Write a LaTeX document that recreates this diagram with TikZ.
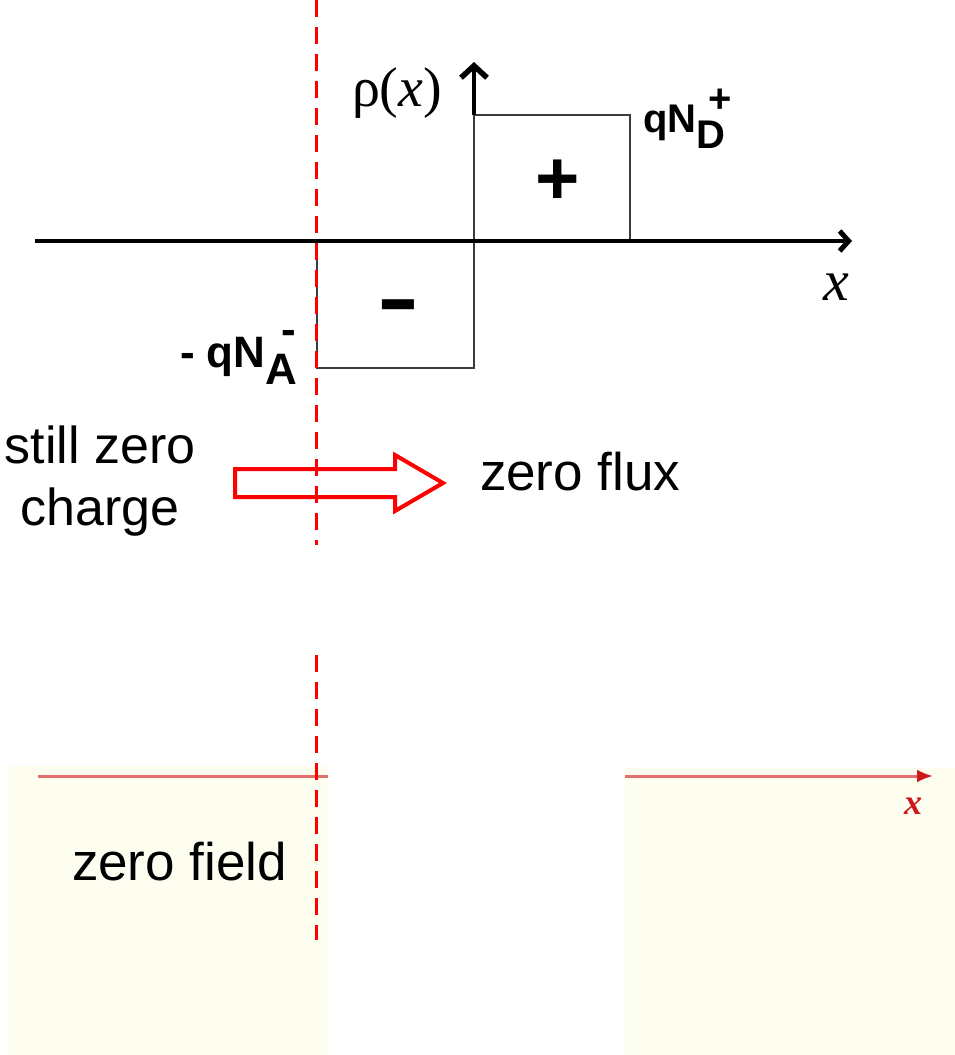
\documentclass[tikz,border=0pt]{standalone}
\usepackage{fontspec}
\setmainfont{Liberation Sans}
\newfontfamily\serifrm{Liberation Serif}
\usetikzlibrary{arrows.meta}
\definecolor{fieldbg}{RGB}{254,254,240}
\definecolor{fieldred}{RGB}{226,110,110}
\definecolor{tipred}{RGB}{205,25,25}
\definecolor{boxgray}{RGB}{60,60,60}
\tikzset{
  axisline/.style={draw=black, line width=3.5pt, -{Straight Barb[length=9pt,width=20pt,line width=5pt]}},
  yaxisline/.style={draw=black, line width=4pt, -{Straight Barb[length=12pt,width=26pt,line width=5.5pt]}},
  chargebox/.style={draw=boxgray, line width=2.2pt, inner sep=0pt, outer sep=0pt},
  junction/.style={draw=red, line width=3pt, dash pattern=on 17pt off 10pt},
  fieldpanel/.style={fill=fieldbg, draw=none},
  fieldaxis/.style={draw=fieldred, line width=3pt},
  fluxarrow/.style={draw=red, line width=4pt, line join=miter},
  plain/.style={inner sep=0pt, outer sep=0pt},
}
\begin{document}
\begin{tikzpicture}[x=1pt,y=-1pt]
\useasboundingbox (0,0) rectangle (955,1055);
% bottom panels
\fill[fieldpanel] (8,766) rectangle (328,1055);
\fill[fieldpanel] (625,768) rectangle (955,1055);
\coordinate (fl1) at (38,776);
\coordinate (fl2) at (328,776);
\coordinate (fr1) at (625,776);
\coordinate (fr2) at (933,776);
\draw[fieldaxis] (fl1) -- (fl2);
\draw[fieldaxis, -{Latex[length=16pt,width=13pt,color=tipred]}] (fr1) -- (fr2);
\node[plain, anchor=base, text=tipred, font=\serifrm\fontsize{36}{40}\selectfont\bfseries\itshape] (xlab2) at (913,814) {x};
\node[plain, anchor=base west, font=\fontsize{53}{60}\selectfont] (zfield) at (72,880) {zero field};
% charge boxes
\node[chargebox, anchor=north west, minimum width=156pt, minimum height=126pt] (pbox) at (474,115) {};
\node[chargebox, anchor=north west, minimum width=157pt, minimum height=127pt] (nbox) at (317,241) {};
\node[plain, anchor=base, font=\fontsize{76}{80}\selectfont\bfseries] (plus) at (558,204) {+};
\node[plain, anchor=base, xscale=1.5, font=\fontsize{84}{84}\selectfont\bfseries] (minus) at (398,326) {-};
% axes
\coordinate (axl) at (35,241);
\coordinate (axr) at (852,241);
\coordinate (ytop) at (474,62);
\draw[axisline] (axl) -- (axr);
\draw[yaxisline] (pbox.north west) -- (ytop);
\node[plain, anchor=base west, font=\serifrm\fontsize{56}{60}\selectfont] (rho) at (352,106) {ρ(\textit{x})};
\node[plain, anchor=base, font=\serifrm\fontsize{58}{60}\selectfont\itshape] (xlab) at (836,300) {x};
\node[plain, anchor=base west, font=\fontsize{40}{44}\selectfont\bfseries] (qnd) at (643,132)
  {qN\rlap{\raisebox{-0.42em}{D}}\hspace{0.3em}\raisebox{0.5em}{+}};
\node[plain, anchor=base west, font=\fontsize{44}{48}\selectfont\bfseries] (qna) at (180,367)
  {- qN\rlap{\raisebox{-0.4em}{A}}\hspace{0.36em}\raisebox{0.52em}{-}};
% text and flux arrow
\node[plain, align=center, font=\fontsize{52}{62}\selectfont] (still) at (100,481) {still zero\\charge};
\node[plain, anchor=base west, font=\fontsize{53}{60}\selectfont] (zflux) at (480,490) {zero flux};
\draw[fluxarrow] (235,469) -- (395,469) -- (395,455) -- (443,483) -- (395,511) -- (395,497) -- (235,497) -- cycle;
% junction lines
\coordinate (j1) at (316,0);
\coordinate (j2) at (316,545);
\coordinate (j3) at (316,655);
\coordinate (j4) at (316,940);
\draw[junction] (j1) -- (j2);
\draw[junction] (j3) -- (j4);
\end{tikzpicture}
\end{document}
